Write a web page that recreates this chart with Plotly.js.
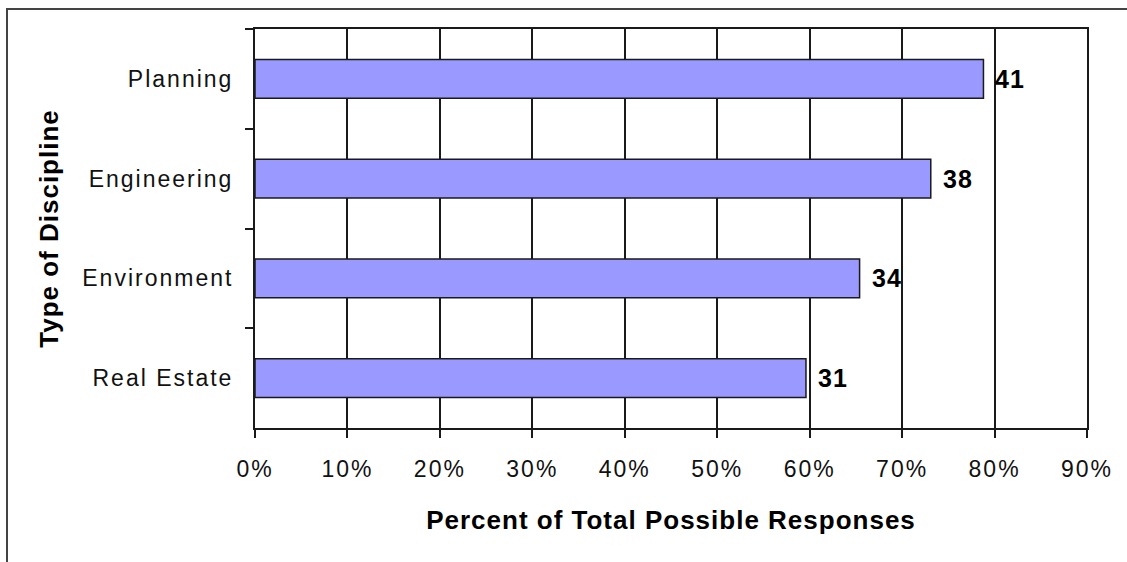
<!DOCTYPE html>
<html>
<head>
<meta charset="utf-8">
<script src="https://cdn.plot.ly/plotly-3.0.1.min.js"></script>
<style>
html, body { margin: 0; padding: 0; background: #fff; }
#chart { width: 1127px; height: 562px; }
.main-svg text { letter-spacing: 1px; }
.main-svg .xtick text, .main-svg .ytick text { letter-spacing: 2px; }
</style>
</head>
<body>
<div id="chart"></div>
<script>
// Data (top to bottom as shown)
const categories = ["Planning", "Engineering", "Environment", "Real Estate"];
const percentValues = [78.8, 73.1, 65.4, 59.6];   // percent of total possible responses
const responseCounts = [41, 38, 34, 31];           // labels shown at bar ends
const xTickValues = [0, 10, 20, 30, 40, 50, 60, 70, 80, 90];
const xTickLabels = ["0%", "10%", "20%", "30%", "40%", "50%", "60%", "70%", "80%", "90%"];

const W = 1127, H = 562;
const margin = { l: 255, r: 40, t: 29, b: 134 };
const pw = W - margin.l - margin.r, ph = H - margin.t - margin.b;
const px = v => (v - margin.l) / pw;
const py = v => (H - margin.b - v) / ph;

const trace = {
  type: "bar",
  orientation: "h",
  y: categories,
  x: percentValues,
  marker: { color: "#9999ff", line: { color: "#1a1a1a", width: 1.5 } },
  hoverinfo: "x+y"
};

const annotations = categories.map((c, i) => ({
  x: percentValues[i], y: c, xref: "x", yref: "y",
  text: String(responseCounts[i]),
  showarrow: false, xanchor: "left", yanchor: "middle", xshift: 11,
  font: { family: "Liberation Sans, Arial, sans-serif", size: 25, color: "#000", weight: "bold" }
}));

const layout = {
  width: W, height: H,
  margin: margin,
  paper_bgcolor: "#fff",
  plot_bgcolor: "#fff",
  showlegend: false,
  bargap: 0.61,
  font: { family: "Liberation Sans, Arial, sans-serif", color: "#111", size: 23 },
  xaxis: {
    range: [0, 90],
    tickvals: xTickValues,
    ticktext: xTickLabels,
    showgrid: true, gridcolor: "#1a1a1a", gridwidth: 2,
    zeroline: false,
    showline: true, linecolor: "#1a1a1a", linewidth: 2, mirror: true,
    ticks: "outside", ticklen: 8, tickwidth: 2, tickcolor: "#1a1a1a",
    ticklabelstandoff: 11,
    tickfont: { size: 23, color: "#111" },
    title: { text: "Percent of Total Possible Responses", standoff: 30,
      font: { size: 26, weight: "bold", color: "#000" } },
    fixedrange: true
  },
  yaxis: {
    type: "category",
    categoryorder: "array", categoryarray: categories,
    range: [3.5, -0.5],
    tickson: "boundaries",
    showgrid: false, zeroline: false,
    showline: true, linecolor: "#1a1a1a", linewidth: 2, mirror: true,
    ticks: "outside", ticklen: 8, tickwidth: 2, tickcolor: "#1a1a1a",
    ticklabelstandoff: 15,
    tickfont: { size: 23, color: "#111" },
    title: { text: "Type of Discipline", standoff: 38,
      font: { size: 26, weight: "bold", color: "#000" } },
    fixedrange: true
  },
  annotations: annotations,
  shapes: [{
    type: "rect", xref: "paper", yref: "paper",
    x0: px(7), x1: px(1135), y0: py(575), y1: py(9),
    line: { color: "#444", width: 2 }, fillcolor: "rgba(0,0,0,0)", layer: "below"
  }]
};

Plotly.newPlot("chart", [trace], layout, { displayModeBar: false, staticPlot: true });
</script>
</body>
</html>
